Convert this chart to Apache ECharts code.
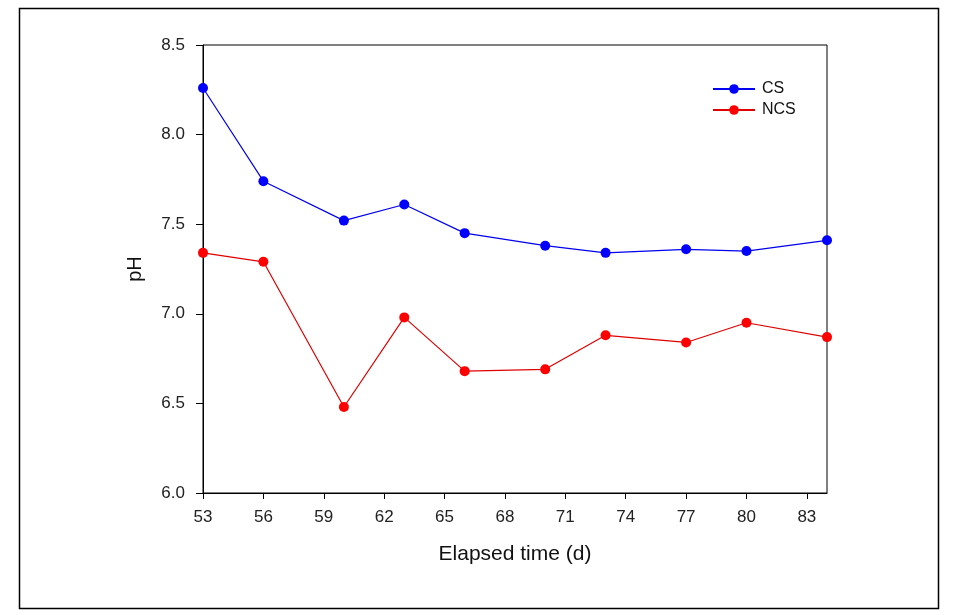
<!DOCTYPE html>
<html>
<head>
<meta charset="utf-8">
<script src="https://cdn.jsdelivr.net/npm/echarts@6/dist/echarts.min.js"></script>
<style>
html,body{margin:0;padding:0;background:#fff;}
#chart{width:954px;height:615px;}
</style>
</head>
<body>
<div id="chart"></div>
<script>
const days = [53, 56, 60, 63, 66, 70, 73, 77, 80, 84];
const csValues = [8.26, 7.74, 7.52, 7.61, 7.45, 7.38, 7.34, 7.36, 7.35, 7.41];
const ncsValues = [7.34, 7.29, 6.48, 6.98, 6.68, 6.69, 6.88, 6.84, 6.95, 6.87];
const xTicks = [53, 56, 59, 62, 65, 68, 71, 74, 77, 80, 83];
const yTicks = [6.0, 6.5, 7.0, 7.5, 8.0, 8.5];
const seriesNames = ['CS', 'NCS'];

const chart = echarts.init(document.getElementById('chart'), null, {renderer: 'canvas'});
const font = 'Arial, "Liberation Sans", sans-serif';
const pair = (xs, ys) => xs.map((x, i) => [x, ys[i]]);

chart.setOption({
  animation: false,
  backgroundColor: '#fff',
  graphic: [{
    type: 'rect',
    shape: {x: 19.5, y: 8.5, width: 919, height: 600},
    style: {fill: 'none', stroke: '#000', lineWidth: 1.5},
    silent: true
  }],
  grid: {
    left: 203, right: 127, top: 45, bottom: 122,
    show: true, borderColor: '#000', borderWidth: 1, backgroundColor: 'transparent'
  },
  legend: {
    orient: 'vertical',
    left: 707, top: 76,
    itemWidth: 42, itemHeight: 12, itemGap: 5,
    textStyle: {fontFamily: font, fontSize: 16, color: '#111', padding: [0, 0, 0, 2]},
    data: seriesNames
  },
  xAxis: {
    type: 'value', min: 53, max: 84,
    name: 'Elapsed time (d)', nameLocation: 'middle', nameGap: 51,
    nameTextStyle: {fontFamily: font, fontSize: 21, color: '#111'},
    axisLine: {show: true, lineStyle: {color: '#000', width: 1}},
    axisTick: {show: true, length: 6, inside: false, customValues: xTicks, lineStyle: {color: '#000'}},
    axisLabel: {customValues: xTicks, margin: 16, fontFamily: font, fontSize: 17, color: '#222'},
    splitLine: {show: false}
  },
  yAxis: {
    type: 'value', min: 6, max: 8.5, interval: 0.5,
    name: 'pH', nameLocation: 'middle', nameGap: 58, nameRotate: 90,
    nameTextStyle: {fontFamily: font, fontSize: 20, color: '#111'},
    axisLine: {show: true, lineStyle: {color: '#000', width: 1}},
    axisTick: {show: true, length: 7, inside: false, customValues: yTicks, lineStyle: {color: '#000'}},
    axisLabel: {customValues: yTicks, margin: 18, fontFamily: font, fontSize: 17, color: '#222',
      formatter: v => Number(v).toFixed(1)},
    splitLine: {show: false}
  },
  series: [
    {
      name: seriesNames[0], type: 'line', data: pair(days, csValues),
      symbol: 'circle', symbolSize: 10,
      itemStyle: {color: '#0000ff'},
      lineStyle: {color: '#0000ee', width: 1.2}
    },
    {
      name: seriesNames[1], type: 'line', data: pair(days, ncsValues),
      symbol: 'circle', symbolSize: 10,
      itemStyle: {color: '#ff0000'},
      lineStyle: {color: '#e00000', width: 1.2}
    }
  ]
});
</script>
</body>
</html>
